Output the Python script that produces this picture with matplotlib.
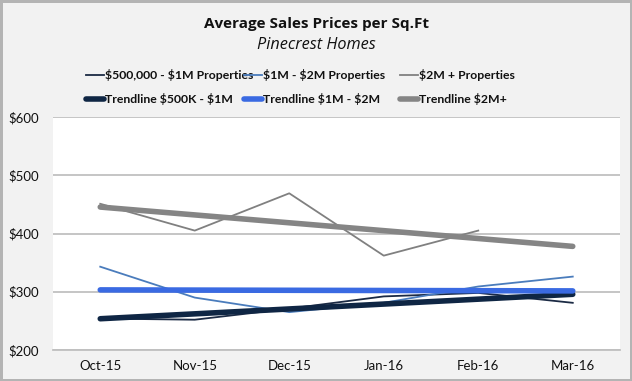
import numpy as np
import matplotlib
matplotlib.use("Agg")
import matplotlib.pyplot as plt

months = ['Oct-15', 'Nov-15', 'Dec-15', 'Jan-16', 'Feb-16', 'Mar-16']
s_500k_1m = [254, 252, 271, 292, 298, 281]
s_1m_2m = [343, 290, 265, 281, 309, 326]
s_2m_plus = [451, 405, 469, 362, 405, np.nan]
y_ticks = [200, 300, 400, 500, 600]
y_tick_labels = ['$200', '$300', '$400', '$500', '$600']

series_names = ['$500,000 - $1M Properties', '$1M - $2M Properties', '$2M + Properties']
trend_names = ['Trendline $500K - $1M', 'Trendline $1M - $2M', 'Trendline $2M+']
raw_colors = ['#1b2a44', '#4a7cbc', '#808080']
trend_colors = ['#0f2644', '#3a6ae2', '#858585']

FONT = 'Lato'
TFONT = 'Open Sans'
plt.rcParams['font.family'] = [FONT, 'DejaVu Sans']
plt.rcParams['text.parse_math'] = False

fig = plt.figure(figsize=(6.32, 3.81), dpi=100)
fig.patch.set_facecolor('#f2f2f2')
fig.patch.set_edgecolor('#b4b4b4')
fig.patch.set_linewidth(2.5)

ax = fig.add_axes([53 / 632, 1 - 350 / 381, (620 - 53) / 632, (350 - 117) / 381])
ax.set_facecolor('white')

x = np.arange(len(months))
data = [s_500k_1m, s_1m_2m, s_2m_plus]

raw_handles = []
for vals, c, name in zip(data, raw_colors, series_names):
    h, = ax.plot(x, vals, color=c, lw=1.3, label=name, zorder=3)
    raw_handles.append(h)

trend_handles = []
for vals, c, name in zip(data, trend_colors, trend_names):
    v = np.array(vals, dtype=float)
    m = ~np.isnan(v)
    coef = np.polyfit(x[m], v[m], 1)
    h, = ax.plot(x, np.polyval(coef, x), color=c, lw=4.0, solid_capstyle='round',
                 label=name, zorder=4)
    trend_handles.append(h)

ax.set_xlim(-0.5, len(months) - 0.5)
ax.set_ylim(200, 600)
ax.set_yticks(y_ticks)
ax.set_yticklabels(y_tick_labels)
ax.set_xticks(x)
ax.set_xticklabels(months)
ax.yaxis.grid(True, color='#c0c0c0', lw=1.3, zorder=0)
ax.set_axisbelow(True)
for s in ['top', 'right', 'left']:
    ax.spines[s].set_visible(False)
ax.spines['bottom'].set_color('#c0c0c0')
ax.spines['bottom'].set_linewidth(1.3)
ax.tick_params(axis='both', length=0, labelsize=9.5, colors='#111111')
ax.tick_params(axis='y', pad=10)
ax.tick_params(axis='x', pad=7)

fig.text(316 / 632, 1 - 24 / 381, 'Average Sales Prices per Sq.Ft', ha='center', va='center',
         fontsize=11, fontweight='bold', color='#111111', family=TFONT)
fig.text(316 / 632, 1 - 45 / 381, 'Pinecrest Homes', ha='center', va='center',
         fontsize=11.7, fontstyle='italic', color='#111111', family=TFONT)

col_x = [86, 244, 400]
for i in range(3):
    leg = fig.legend([raw_handles[i], trend_handles[i]], [series_names[i], trend_names[i]],
                     loc='upper left', bbox_to_anchor=(col_x[i] / 632, 1 - 69 / 381),
                     frameon=False, handlelength=1.5, handletextpad=0.05,
                     borderaxespad=0, borderpad=0, labelspacing=1.0,
                     prop={'family': FONT, 'weight': 'bold', 'size': 8.8})
    for t in leg.get_texts():
        t.set_color('#111111')

fig.savefig('out.png', dpi=100, facecolor=fig.get_facecolor(), edgecolor=fig.get_edgecolor())
